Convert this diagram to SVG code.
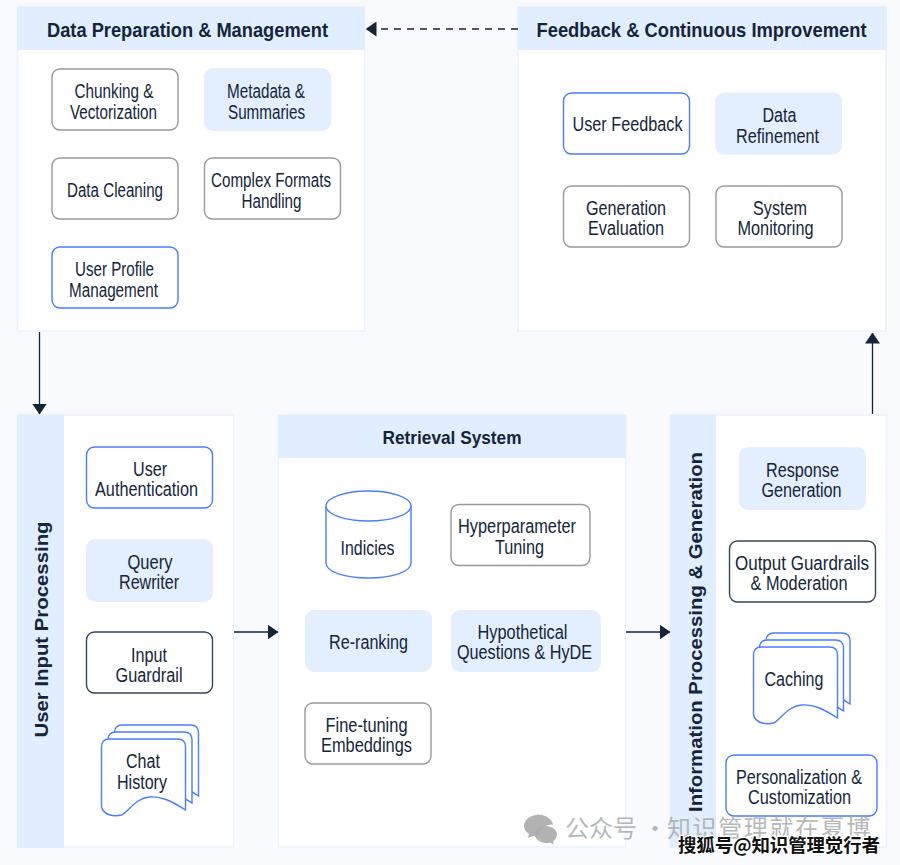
<svg xmlns="http://www.w3.org/2000/svg" width="900" height="865" viewBox="0 0 900 865">
<style>
text{font-family:"Liberation Sans",Arial,sans-serif;fill:#14253a}
.l{font-size:19.500px;text-anchor:middle;transform:translateY(.6px)}
.h{font-size:21px;font-weight:bold;text-anchor:middle}
.v{font-size:18.500px;font-weight:bold;text-anchor:middle}
.panel{fill:#fff;stroke:#e9f2fe;stroke-width:1.5}
.head{fill:#e1eeff}
.g{fill:#fff;stroke:#999;stroke-width:1.4}
.b{fill:#fff;stroke:#4a7dfb;stroke-width:1.4}
.d{fill:#fff;stroke:#33465a;stroke-width:1.4}
.f{fill:#e3eefe}
.c{fill:none;stroke:#14253a;stroke-width:1.3}
.s{fill:#fff;stroke:#4a7dfb;stroke-width:1.4}
</style>
<defs>
<marker id="a" markerWidth="11" markerHeight="15" refX="10.500" refY="7.500" orient="auto" markerUnits="userSpaceOnUse"><path d="M0 0L11 7.500L0 15Z" fill="#14253a"/></marker>
<path id="doc" d="M0 68V8Q0 0 8 0H76Q84 0 84 8V71C70 62 60 57 48 58C34 59 28 72 20 76C12 78 2 76 0 68Z"/>
</defs>
<rect width="900" height="865" fill="#f8fafd"/>

<g id="panel-data-prep">
<rect class="panel" x="17.500" y="7" width="347" height="324"/><rect class="head" x="17" y="7" width="348" height="43"/>
<text class="h" x="187.500" y="36.500" textLength="281" lengthAdjust="spacingAndGlyphs">Data Preparation &amp; Management</text>
</g>
<g id="panel-feedback">
<rect class="panel" x="518" y="7" width="368" height="324"/><rect class="head" x="518" y="7" width="369" height="43"/>
<text class="h" x="701.500" y="36.500" textLength="330" lengthAdjust="spacingAndGlyphs">Feedback &amp; Continuous Improvement</text>
</g>
<g id="panel-user-input">
<rect class="panel" x="17.500" y="415" width="216" height="432"/><rect class="head" x="17" y="415" width="47" height="433"/>
<text class="v" transform="translate(48 629.500) rotate(-90)" textLength="216" lengthAdjust="spacingAndGlyphs">User Input Processing</text>
</g>
<g id="panel-retrieval">
<rect class="panel" x="278.500" y="415" width="347" height="432"/><rect class="head" x="278" y="415" width="348" height="43"/>
<text class="h" x="452" y="444" style="font-size:19px" textLength="139" lengthAdjust="spacingAndGlyphs">Retrieval System</text>
</g>
<g id="panel-info">
<rect class="panel" x="670.500" y="415" width="216" height="432"/><rect class="head" x="670" y="415" width="46" height="433"/>
<text class="v" transform="translate(701.500 632) rotate(-90)" textLength="360" lengthAdjust="spacingAndGlyphs">Information Processing &amp; Generation</text>
</g>

<g id="connectors">
<path class="c" stroke-dasharray="7 6" d="M518 29H366" marker-end="url(#a)"/>
<path class="c" d="M39.500 332V414" marker-end="url(#a)"/>
<path class="c" d="M234 632H278" marker-end="url(#a)"/>
<path class="c" d="M626 632H670" marker-end="url(#a)"/>
<path class="c" d="M872.500 414V333" marker-end="url(#a)"/>
</g>

<g id="chunking"><rect class="g" x="52" y="69" width="126" height="61" rx="8"/><text class="l" x="114" y="97" textLength="79" lengthAdjust="spacingAndGlyphs">Chunking &amp;</text><text class="l" x="113.500" y="118" textLength="87" lengthAdjust="spacingAndGlyphs">Vectorization</text></g>
<g id="metadata"><rect class="f" x="204" y="68" width="127" height="63" rx="9"/><text class="l" x="266" y="97" textLength="78" lengthAdjust="spacingAndGlyphs">Metadata &amp;</text><text class="l" x="266.500" y="118" textLength="77" lengthAdjust="spacingAndGlyphs">Summaries</text></g>
<g id="data-cleaning"><rect class="g" x="52" y="158" width="126" height="61" rx="8"/><text class="l" x="115" y="196" textLength="96" lengthAdjust="spacingAndGlyphs">Data Cleaning</text></g>
<g id="complex-formats"><rect class="g" x="204.500" y="158" width="136" height="61" rx="8"/><text class="l" x="271" y="186" textLength="120" lengthAdjust="spacingAndGlyphs">Complex Formats</text><text class="l" x="271.500" y="207" textLength="60" lengthAdjust="spacingAndGlyphs">Handling</text></g>
<g id="user-profile"><rect class="b" x="52" y="247" width="126" height="61" rx="8"/><text class="l" x="114.500" y="275" textLength="79" lengthAdjust="spacingAndGlyphs">User Profile</text><text class="l" x="113.500" y="296" textLength="89" lengthAdjust="spacingAndGlyphs">Management</text></g>

<g id="user-feedback"><rect class="b" x="563.500" y="93" width="126" height="61" rx="8"/><text class="l" x="627.500" y="130" textLength="110" lengthAdjust="spacingAndGlyphs">User Feedback</text></g>
<g id="data-refinement"><rect class="f" x="715" y="92.500" width="127" height="62" rx="9"/><text class="l" x="779.500" y="121" textLength="34" lengthAdjust="spacingAndGlyphs">Data</text><text class="l" x="777.500" y="142" textLength="83" lengthAdjust="spacingAndGlyphs">Refinement</text></g>
<g id="generation-eval"><rect class="g" x="563.500" y="186" width="126" height="61" rx="8"/><text class="l" x="626" y="214" textLength="80" lengthAdjust="spacingAndGlyphs">Generation</text><text class="l" x="626" y="234" textLength="76" lengthAdjust="spacingAndGlyphs">Evaluation</text></g>
<g id="system-monitoring"><rect class="g" x="716" y="186" width="126" height="61" rx="8"/><text class="l" x="780" y="214" textLength="54" lengthAdjust="spacingAndGlyphs">System</text><text class="l" x="775.500" y="234" textLength="76" lengthAdjust="spacingAndGlyphs">Monitoring</text></g>

<g id="user-auth"><rect class="b" x="86.500" y="447" width="126" height="61" rx="8"/><text class="l" x="150" y="475" textLength="34" lengthAdjust="spacingAndGlyphs">User</text><text class="l" x="146.500" y="495" textLength="103" lengthAdjust="spacingAndGlyphs">Authentication</text></g>
<g id="query-rewriter"><rect class="f" x="86" y="539" width="127" height="63" rx="9"/><text class="l" x="150" y="568" textLength="45" lengthAdjust="spacingAndGlyphs">Query</text><text class="l" x="149" y="588" textLength="60" lengthAdjust="spacingAndGlyphs">Rewriter</text></g>
<g id="input-guardrail"><rect class="d" x="86.500" y="632" width="126" height="61" rx="8"/><text class="l" x="149" y="661" textLength="36" lengthAdjust="spacingAndGlyphs">Input</text><text class="l" x="149" y="681" textLength="67" lengthAdjust="spacingAndGlyphs">Guardrail</text></g>
<g id="chat-history"><use href="#doc" class="s" x="114.500" y="725"/><use href="#doc" class="s" x="108" y="732"/><use href="#doc" class="s" x="101.500" y="739"/><text class="l" x="143" y="767" textLength="34" lengthAdjust="spacingAndGlyphs">Chat</text><text class="l" x="142" y="788" textLength="50" lengthAdjust="spacingAndGlyphs">History</text></g>

<g id="indicies"><path class="s" d="M326 506V563C326 572 345 578 368.500 578S411 572 411 563V506"/><ellipse class="s" cx="368.500" cy="506" rx="42.500" ry="15"/><text class="l" x="367.500" y="554" textLength="54" lengthAdjust="spacingAndGlyphs">Indicies</text></g>
<g id="hyperparameter"><rect class="g" x="451" y="504.500" width="139" height="61" rx="8"/><text class="l" x="517" y="532" textLength="118" lengthAdjust="spacingAndGlyphs">Hyperparameter</text><text class="l" x="519.500" y="553" textLength="49" lengthAdjust="spacingAndGlyphs">Tuning</text></g>
<g id="re-ranking"><rect class="f" x="305" y="610" width="127" height="62" rx="9"/><text class="l" x="368.500" y="648" textLength="79" lengthAdjust="spacingAndGlyphs">Re-ranking</text></g>
<g id="hypothetical"><rect class="f" x="451" y="610" width="150" height="62" rx="9"/><text class="l" x="522.500" y="638" textLength="90" lengthAdjust="spacingAndGlyphs">Hypothetical</text><text class="l" x="524.500" y="658" textLength="135" lengthAdjust="spacingAndGlyphs">Questions &amp; HyDE</text></g>
<g id="fine-tuning"><rect class="g" x="305" y="703" width="126" height="61" rx="8"/><text class="l" x="366.500" y="731" textLength="82" lengthAdjust="spacingAndGlyphs">Fine-tuning</text><text class="l" x="366.500" y="751" textLength="91" lengthAdjust="spacingAndGlyphs">Embeddings</text></g>

<g id="response-generation"><rect class="f" x="739" y="447" width="127" height="63" rx="9"/><text class="l" x="802.500" y="476" textLength="73" lengthAdjust="spacingAndGlyphs">Response</text><text class="l" x="801.500" y="496" textLength="80" lengthAdjust="spacingAndGlyphs">Generation</text></g>
<g id="output-guardrails"><rect class="d" x="729.500" y="541" width="146" height="61" rx="8"/><text class="l" x="802" y="569" textLength="134" lengthAdjust="spacingAndGlyphs">Output Guardrails</text><text class="l" x="799" y="589" textLength="97" lengthAdjust="spacingAndGlyphs">&amp; Moderation</text></g>
<g id="caching"><use href="#doc" class="s" x="766" y="633"/><use href="#doc" class="s" x="759.500" y="640"/><use href="#doc" class="s" x="753.500" y="647"/><text class="l" x="794" y="685" textLength="59" lengthAdjust="spacingAndGlyphs">Caching</text></g>
<g id="personalization"><rect class="b" x="726" y="755" width="151" height="61" rx="8"/><text class="l" x="799" y="783" textLength="126" lengthAdjust="spacingAndGlyphs">Personalization &amp;</text><text class="l" x="799.500" y="803" textLength="103" lengthAdjust="spacingAndGlyphs">Customization</text></g>

<g id="watermark">
<path fill="#aaa" fill-opacity=".9" d="M537 815c-7 0-13 5-13 11 0 3 2 6 5 8l-1 4 5-2c2 .5 3 .5 5 .5 0-6 6-12 15-12-1-6-8-10-16-10z"/>
<path fill="#aaa" fill-opacity=".9" d="M546 826c-6 0-11 4-11 8.500s5 8.500 11 8.500c1 0 3 0 4-.5l4 2-1-3c2-2 4-4 4-7 0-4.500-5-8.500-11-8.500z"/>
<text y="837" style="font-family:'Noto Sans CJK SC','Liberation Sans',sans-serif;font-size:24px;fill:#a8abad;fill-opacity:.85"><tspan x="565">公众号</tspan><tspan x="643">·</tspan><tspan x="667" letter-spacing="1.600">知识管理就在夏博</tspan></text>
<text x="678" y="852" style="font-family:'Noto Sans CJK SC',sans-serif;font-size:18.500px;font-weight:bold;fill:#111;stroke:#fff;stroke-width:2.500px;paint-order:stroke" textLength="202">搜狐号@知识管理觉行者</text>
</g>
</svg>
